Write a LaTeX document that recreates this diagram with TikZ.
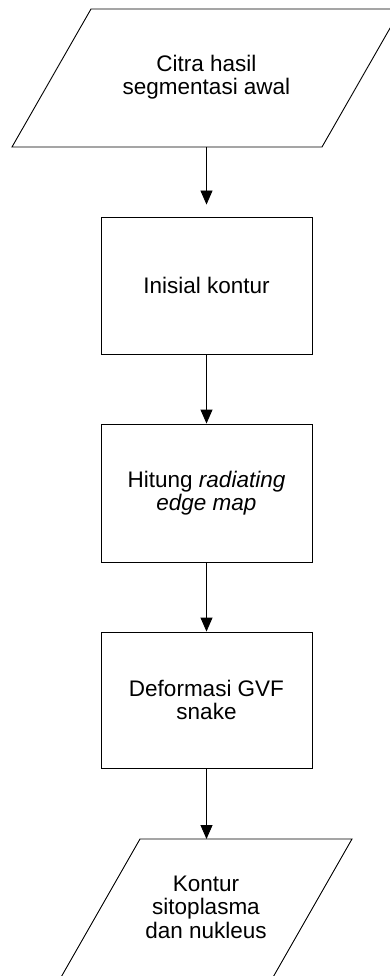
\documentclass[tikz,border=0pt]{standalone}
\usepackage{fontspec}
\setmainfont{Liberation Sans}
\usetikzlibrary{arrows.meta}
\begin{document}
\begin{tikzpicture}[x=1pt,y=-1pt,
  lbl/.style={align=center,font=\fontsize{22.5}{23.5}\selectfont,inner sep=0pt},
  procbox/.style={draw=black,line width=0.9pt,minimum width=211pt,inner sep=0pt,lbl},
  iofig/.style={draw=black,line width=0.9pt,line join=miter},
  flow/.style={draw=black,line width=0.9pt,-{Triangle[length=14pt,width=12pt]}}]
\useasboundingbox (0,0) rectangle (390,976);
\clip (0,0) rectangle (390,976);
% input parallelogram
\draw[iofig] (12,147) -- (91,9) -- (401,9) -- (322,147) -- cycle;
\node[lbl] (in) at (206.5,77) {Citra hasil\\segmentasi awal};
\coordinate (inS) at (206.5,147);
% process boxes
\node[procbox,minimum height=137pt] (b1) at (206.5,285.5) {Inisial kontur};
\node[procbox,minimum height=138pt] (b2) at (206.5,493) {Hitung \textit{radiating}\\\textit{edge map}};
\node[procbox,minimum height=136pt] (b3) at (206.5,700) {Deformasi GVF\\snake};
% output parallelogram
\draw[iofig] (60,979) -- (140,839) -- (352,839) -- (272,979) -- cycle;
\node[lbl] (out) at (206,907) {Kontur\\sitoplasma\\dan nukleus};
\coordinate (outN) at (206.5,839);
% connectors
\draw[flow,shorten >=12pt] (inS) -- (b1.north);
\draw[flow] (b1.south) -- (b2.north);
\draw[flow] (b2.south) -- (b3.north);
\draw[flow] (b3.south) -- (outN);
\end{tikzpicture}
\end{document}
